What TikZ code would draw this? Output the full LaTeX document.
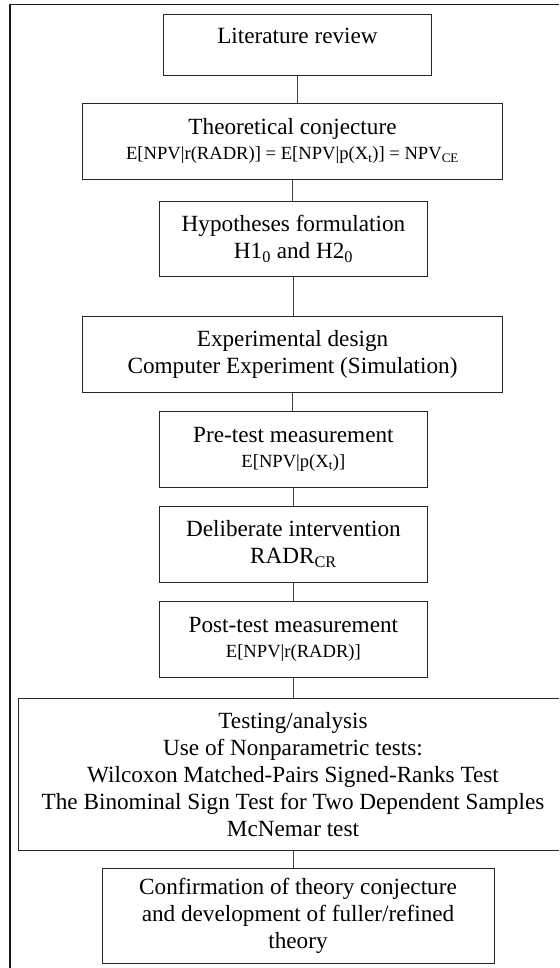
\documentclass[tikz,border=0pt]{standalone}
\usepackage{fontspec}
\setmainfont{Liberation Serif}
\newcommand{\mainsize}{\fontsize{23.2}{27}\selectfont}
\newcommand{\subsize}{\fontsize{18.6}{22}\selectfont}

\begin{document}
\begin{tikzpicture}[x=1pt,y=-1pt]
  \tikzset{stage/.style = {shape=rectangle,draw=black!85,line width=1pt,inner sep=0pt,align=center,font=\mainsize}}
  \tikzset{link/.style = {draw=black!75,line width=1pt}}
  \useasboundingbox (0,0) rectangle (559,968);
  \clip (0,0) rectangle (559,968);
  \draw[line width=1.3pt,black!90] (10,4.3) rectangle (585,995);

	\node[stage,minimum width=268pt,minimum height=61pt,text height=14pt,text depth=16pt] (lit) at (297.5,44.7) {Literature review};
	\node[stage,minimum width=420pt,minimum height=76pt] (theo) at (292.5,141.3) {Theoretical conjecture\\[-2pt]{\subsize E[NPV|r(RADR)] = E[NPV|p(X\textsubscript{t})] = NPV\textsubscript{CE}}};
	\node[stage,minimum width=268pt,minimum height=75pt] (hyp) at (293.5,238.8) {Hypotheses formulation\\H1\textsubscript{0} and H2\textsubscript{0}};
	\node[stage,minimum width=420pt,minimum height=76pt] (exp) at (292.5,354) {Experimental design\\Computer Experiment (Simulation)};
	\node[stage,minimum width=268pt,minimum height=76pt] (pre) at (293.4,449) {Pre-test measurement\\[-2pt]{\subsize E[NPV|p(X\textsubscript{t})]}};
	\node[stage,minimum width=268pt,minimum height=76pt] (delib) at (293.4,544) {Deliberate intervention\\RADR\textsubscript{CR}};
	\node[stage,minimum width=268pt,minimum height=76pt] (post) at (293.4,639.7) {Post-test measurement\\[-2pt]{\subsize E[NPV|r(RADR)]}};
	\node[stage,minimum width=549pt,minimum height=152pt] (test) at (293,774.3) {Testing/analysis\\Use of Nonparametric tests:\\Wilcoxon Matched-Pairs Signed-Ranks Test\\The Binominal Sign Test for Two Dependent Samples\\McNemar test};
	\node[stage,minimum width=392pt,minimum height=95pt] (conf) at (298,916.2) {Confirmation of theory conjecture\\and development of fuller/refined\\theory};

    \foreach \from/\to in {lit/theo,theo/hyp,hyp/exp,exp/pre,pre/delib,delib/post,post/test,test/conf}
    \path[link] (\from.south) -- (\from.south |- \to.north);
\end{tikzpicture}
\end{document}
